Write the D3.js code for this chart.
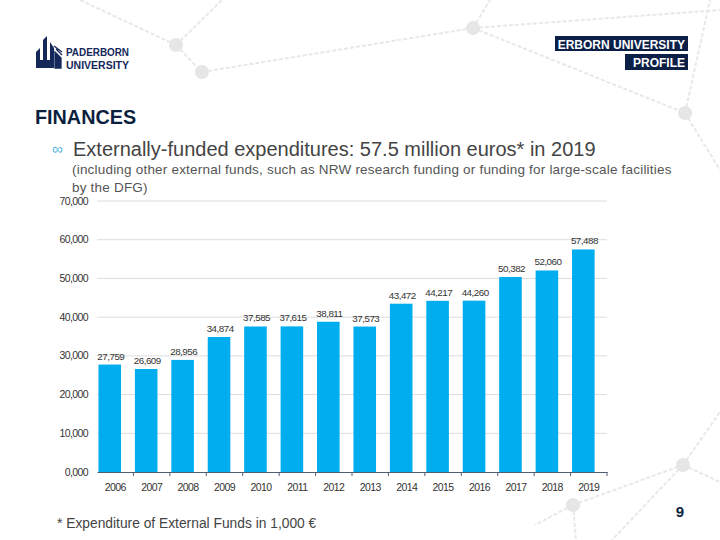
<!DOCTYPE html>
<html><head><meta charset="utf-8">
<script src="https://cdn.jsdelivr.net/npm/d3@7"></script>
<style>
html,body{margin:0;padding:0;background:#fff;}
svg{display:block;font-family:"Liberation Sans",Arial,sans-serif;}
</style></head>
<body>
<script>
const years = ["2006","2007","2008","2009","2010","2011","2012","2013","2014","2015","2016","2017","2018","2019"];
const values = [27759,26609,28956,34874,37585,37615,38811,37573,43472,44217,44260,50382,52060,57488];
const valueLabels = ["27,759","26,609","28,956","34,874","37,585","37,615","38,811","37,573","43,472","44,217","44,260","50,382","52,060","57,488"];
const yTicks = [0,10000,20000,30000,40000,50000,60000,70000];
const yTickLabels = ["0,000","10,000","20,000","30,000","40,000","50,000","60,000","70,000"];

(function(){
const W = 720, H = 540;
const svg = d3.select("body").append("svg").attr("width", W).attr("height", H);

// background network
const net = svg.append("g").attr("stroke","#e8e8e8").attr("stroke-width",2).attr("stroke-dasharray","4,2").attr("fill","none");
const segs = [
  [[176,45],[80,0]],[[176,45],[222,0]],[[176,45],[202,72]],[[202,72],[473,28]],
  [[473,28],[490,0]],[[473,28],[685,113]],[[473,28],[720,10]],[[685,113],[710,0]],[[685,113],[720,170]],
  [[683,465],[720,412]],[[683,465],[720,482]],[[683,465],[612,540]],[[573,505],[683,465]],
  [[573,505],[535,525]],[[573,505],[576,540]]
];
segs.forEach(s=>net.append("line").attr("x1",s[0][0]).attr("y1",s[0][1]).attr("x2",s[1][0]).attr("y2",s[1][1]));
[[176,45],[202,72],[473,28],[685,113],[683,465],[573,505]].forEach(c=>
  svg.append("circle").attr("cx",c[0]).attr("cy",c[1]).attr("r",7).attr("fill","#e6e6e6"));

// logo
const logo = svg.append("g").attr("fill","#15285a");
logo.append("path").attr("d","M36,68 L36,52 L40,48 L40,60 L43,60 L43,40 L47,36 L47,60 L50,60 L50,42 L54,48 L54,68 Z");
logo.append("path").attr("d","M55,52 L61,58 L61,68 L55,68 Z M56,49 L62,55 M54,46 L62,52").attr("stroke","#15285a").attr("stroke-width",1.3);
logo.append("text").attr("x",66).attr("y",56).attr("font-size",11).attr("font-weight","bold")
  .attr("textLength",63).attr("lengthAdjust","spacingAndGlyphs").text("PADERBORN");
logo.append("text").attr("x",66).attr("y",68.5).attr("font-size",11).attr("font-weight","bold")
  .attr("textLength",63).attr("lengthAdjust","spacingAndGlyphs").text("UNIVERSITY");

// top right tag boxes
svg.append("rect").attr("x",555).attr("y",36).attr("width",133).attr("height",15).attr("fill","#0c1f47");
svg.append("text").attr("x",685).attr("y",48.5).attr("text-anchor","end").attr("fill","#fff").attr("font-size",12).attr("font-weight","bold").attr("letter-spacing",0).text("ERBORN UNIVERSITY");
svg.append("rect").attr("x",625).attr("y",54).attr("width",63).attr("height",16).attr("fill","#0c1f47");
svg.append("text").attr("x",685).attr("y",66.5).attr("text-anchor","end").attr("fill","#fff").attr("font-size",12).attr("font-weight","bold").attr("letter-spacing",0).text("PROFILE");

// headings
svg.append("text").attr("x",35).attr("y",124).attr("font-size",19.8).attr("font-weight","bold").attr("fill","#0c1f3f").text("FINANCES");
svg.append("text").attr("x",52).attr("y",154).attr("font-size",15).attr("fill","#4fb3e0").text("\u221E");
svg.append("text").attr("x",73).attr("y",156).attr("font-size",20).attr("fill","#444").text("Externally-funded expenditures: 57.5 million euros* in 2019");
svg.append("text").attr("x",72).attr("y",174).attr("font-size",13.5).attr("letter-spacing",0.2).attr("fill","#555").text("(including other external funds, such as NRW research funding or funding for large-scale facilities");
svg.append("text").attr("x",72).attr("y",192).attr("font-size",13.5).attr("letter-spacing",0.2).attr("fill","#555").text("by the DFG)");

// chart
const pLeft = 97, pRight = 607, pTop = 201, pBottom = 472;
const x = d3.scaleBand().domain(years).range([pLeft, pRight]).padding(0);
const y = d3.scaleLinear().domain([0,70000]).range([pBottom, pTop]);

const grid = svg.append("g");
yTicks.forEach((t,i)=>{
  if (t>0) grid.append("line").attr("x1",pLeft).attr("x2",pRight).attr("y1",y(t)).attr("y2",y(t)).attr("stroke","#dcdcdc").attr("stroke-width",1);
  grid.append("text").attr("x",88).attr("y",y(t)+3.5).attr("text-anchor","end").attr("font-size",10.5).attr("letter-spacing",-0.6).attr("fill","#333").text(yTickLabels[i]);
});

const bw = x.bandwidth();
svg.append("g").selectAll("rect").data(values).join("rect")
  .attr("x",(d,i)=>x(years[i]) + bw*0.04)
  .attr("width",bw*0.62)
  .attr("y",d=>y(d))
  .attr("height",d=>pBottom - y(d))
  .attr("fill","#00aeef");

svg.append("g").selectAll("text").data(values).join("text")
  .attr("x",(d,i)=>x(years[i]) + bw*0.04 + bw*0.34)
  .attr("y",d=>y(d)-5)
  .attr("text-anchor","middle").attr("font-size",9.8).attr("letter-spacing",-0.5).attr("fill","#333")
  .text((d,i)=>valueLabels[i]);

// x axis
const xAxis = d3.axisBottom(x).tickSize(0).tickPadding(12);
const gx = svg.append("g").attr("transform",`translate(0,${pBottom})`).call(xAxis);
gx.select(".domain").attr("stroke","#4f5d73").attr("stroke-width",1.2);
gx.selectAll("text").attr("font-size",10.5).attr("letter-spacing",-0.6).attr("fill","#333").attr("font-family","'Liberation Sans',Arial,sans-serif");
years.forEach((yr,i)=>{
  if (i===0) return;
  gx.append("line").attr("x1",x(yr)).attr("x2",x(yr)).attr("y1",0).attr("y2",4).attr("stroke","#4f5d73").attr("stroke-width",1);
});
gx.append("line").attr("x1",x(years[years.length-1])+bw).attr("x2",x(years[years.length-1])+bw).attr("y1",0).attr("y2",4).attr("stroke","#4f5d73").attr("stroke-width",1);

// footer
svg.append("text").attr("x",57).attr("y",528).attr("font-size",13.8).attr("fill","#444").text("* Expenditure of External Funds in 1,000 \u20AC");
svg.append("text").attr("x",680).attr("y",517).attr("text-anchor","middle").attr("font-size",15).attr("font-weight","bold").attr("fill","#0c1f3f").text("9");
})();
</script>
</body></html>
